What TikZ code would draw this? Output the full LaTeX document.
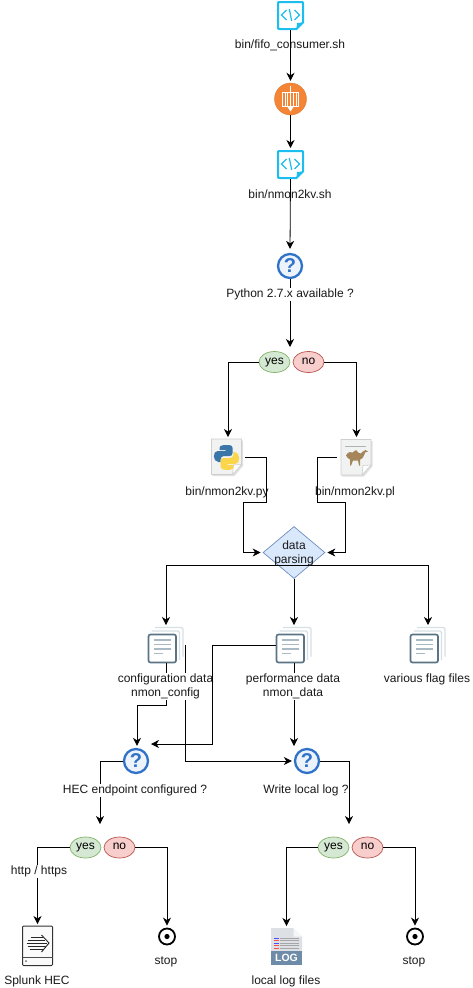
\documentclass[tikz,border=0pt]{standalone}
\usepackage{fontspec}
\setmainfont{Liberation Sans}
\usetikzlibrary{arrows.meta,shapes.geometric,calc}
\definecolor{scriptc}{HTML}{1CBEF0}
\definecolor{queuec}{HTML}{F58536}
\definecolor{qring}{HTML}{2F72C8}
\definecolor{qfill}{HTML}{EDF3FB}
\definecolor{docd}{HTML}{5A7484}
\definecolor{docl}{HTML}{D6DFE4}
\definecolor{docm}{HTML}{A9BAC4}
\definecolor{pagec}{HTML}{F1F2F2}
\definecolor{pageb}{HTML}{CFCFCF}
\definecolor{pyblue}{HTML}{3A76A8}
\definecolor{pyyellow}{HTML}{FBD64B}
\definecolor{camel}{HTML}{A5865A}
\definecolor{logband}{HTML}{6E8CA8}
\definecolor{logpage}{HTML}{DDE1E5}
\definecolor{yesf}{HTML}{D5E8D4}\definecolor{yesb}{HTML}{82B366}
\definecolor{nof}{HTML}{F8CECC}\definecolor{nob}{HTML}{B85450}
\definecolor{dpf}{HTML}{DAE8FC}\definecolor{dpb}{HTML}{6C8EBF}
\tikzset{
  x=1pt,y=-1pt,
  flow/.style={draw=black,line width=0.8pt,-{Stealth[length=8pt,width=8pt,inset=2.5pt]},shorten >=2pt},
  plain/.style={draw=black,line width=0.8pt},
  lbl/.style={font=\fontsize{12}{14}\selectfont,align=center,inner sep=0.5pt,text=black!90,yshift=-1.5pt},
  lblw/.style={lbl,fill=white},
  iconbox/.style={inner sep=0,outer sep=0,rectangle},
  yesnode/.style={ellipse,draw=yesb,fill=yesf,line width=0.7pt,minimum width=31,minimum height=21,inner sep=0,font=\fontsize{12}{13}\selectfont,text height=6pt,text depth=2pt},
  nonode/.style={ellipse,draw=nob,fill=nof,line width=0.7pt,minimum width=31,minimum height=21,inner sep=0,font=\fontsize{12}{13}\selectfont,text height=6pt,text depth=2pt},
}
\newcommand{\scripticon}[3]{%
  \node[iconbox,minimum width=27,minimum height=29] (#1) at (#2,#3) {};
  \begin{scope}[shift={(#2,#3)}]
    \draw[scriptc,line width=2pt,fill=white,line join=round]
      (-10.5,-13.5) -- (10.5,-13.5) .. controls (12.5,-13.5) and (12.5,-13.5) .. (12.5,-11.5)
      -- (12.5,7) -- (6,13.5) -- (-10.5,13.5) .. controls (-12.5,13.5) and (-12.5,13.5) .. (-12.5,11.5)
      -- (-12.5,-11.5) .. controls (-12.5,-13.5) and (-12.5,-13.5) .. (-10.5,-13.5) -- cycle;
    \fill[scriptc] (12.5,7) -- (6.5,7.5) -- (6,13.5) -- cycle;
    \draw[scriptc,line width=1.2pt] (-4,-5.5) -- (-9,-0.5) -- (-4,4.5);
    \draw[scriptc,line width=1.2pt] (4,-5.5) -- (9,-0.5) -- (4,4.5);
    \draw[scriptc,line width=1.2pt] (-1.2,-6.5) -- (1.2,5.5);
  \end{scope}}
\newcommand{\qicon}[3]{%
  \node[circle,draw=qring,line width=2.3pt,fill=qfill,minimum size=24,inner sep=0,
        font=\fontsize{20}{20}\bfseries\selectfont,text=qring] (#1) at (#2,#3) {?};}
\newcommand{\docicon}[3]{%
  \node[iconbox,minimum width=36,minimum height=36] (#1) at (#2,#3) {};
  \begin{scope}[shift={(#2,#3)}]
    \draw[docl,line width=1.3pt,rounded corners=1.5pt] (-11,-17.5) -- (17,-17.5) -- (17,11.5);
    \draw[docl,line width=1.3pt,rounded corners=1.5pt] (-14.5,-14) -- (13.5,-14) -- (13.5,15);
    \draw[docd,line width=1.7pt,fill=white,rounded corners=2pt] (-17.5,-10.5) rectangle (10,17.5);
    \draw[docm,line width=1.6pt] (-12,-5) -- (5,-5) (-12,-0.5) -- (5,-0.5) (-12,4) -- (5,4) (-12,8.5) -- (-3,8.5);
  \end{scope}}
\newcommand{\stopicon}[3]{%
  \node[circle,draw=black,line width=1.8pt,minimum size=16,inner sep=0,fill=white] (#1) at (#2,#3) {};
  \fill[black] (#1.center) circle (2.6);}
\newcommand{\pageicon}[2]{%
  \begin{scope}[shift={(#1,#2)}]
    \fill[black!12] (-14,-16.5) -- (16.5,-16.5) -- (16.5,9) -- (8,19) -- (-14,19) -- cycle;
    \draw[pageb,line width=0.6pt,fill=pagec] (-15,-18) -- (15,-18) -- (15,7.5) -- (6,17.5) -- (-15,17.5) -- cycle;
    \draw[pageb,line width=0.6pt,fill=white] (15,7.5) -- (7,8) -- (6,17.5) -- cycle;
  \end{scope}}
\begin{document}
\begin{tikzpicture}
\useasboundingbox (0,0) rectangle (472,988);
% --- icons
\scripticon{sa}{290.5}{15.5}
\node[lbl] (sal) at (290,44) {bin/fifo\_consumer.sh};
\node[circle,fill=queuec,draw=queuec!90!black,line width=0.4pt,minimum size=32,inner sep=0] (qu) at (290.5,99) {};
\begin{scope}[shift={(290.5,99)}]
  \draw[white,line width=0.9pt] (-8,-7) rectangle (8,7);
  \draw[white,line width=0.9pt] (-5.5,-7) -- (-5.5,7) (-3,-7) -- (-3,7) (3,-7) -- (3,7) (5.5,-7) -- (5.5,7);
  \draw[white,line width=1.2pt] (0,-13) -- (0,9);
  \fill[white] (-3,8) -- (3,8) -- (0,12.5) -- cycle;
\end{scope}
\scripticon{sb}{290.5}{164.5}
\node[lbl] (sbl) at (290,193) {bin/nmon2kv.sh};
\qicon{qa}{290}{266}
\node[yesnode] (ya) at (274.5,362) {yes};
\node[nonode] (na) at (308.5,362) {no};
% python file
\node[iconbox,minimum width=34,minimum height=36] (py) at (228,457) {};
\pageicon{226.5}{457}
\begin{scope}[shift={(226.5,457)}]
  \fill[pyblue] (-1,-12) .. controls (-7,-12) and (-7,-10) .. (-7,-7) -- (-1,-7) -- (-1,-6) -- (-9,-6)
     .. controls (-14,-6) and (-14,5) .. (-8,5) -- (-6,5) .. controls (-6,0) and (-5,-1) .. (-1,-1)
     -- (3,-1) .. controls (5,-1) and (6,-2) .. (6,-4) -- (6,-9) .. controls (6,-12) and (3,-12) .. (-1,-12) -- cycle;
  \fill[pyyellow] (1,13) .. controls (7,13) and (7,11) .. (7,8) -- (1,8) -- (1,7) -- (9,7)
     .. controls (14,7) and (14,-5) .. (8,-5) -- (7,-5) .. controls (7,0) and (6,1) .. (2,1)
     -- (-3,1) .. controls (-5,1) and (-6,2) .. (-6,4) -- (-6,9) .. controls (-6,12) and (-3,13) .. (1,13) -- cycle;
\end{scope}
\node[lblw] (pyl) at (227,491) {bin/nmon2kv.py};
% perl file
\node[iconbox,minimum width=39,minimum height=36] (pl) at (356.5,457) {};
\pageicon{356}{457.5}
\begin{scope}[shift={(356,457.5)}]
  \fill[black!30] (-11,-12) rectangle (10,-10.5);
  \fill[camel] (-10,-2) .. controls (-8,-6) and (-5,-6) .. (-3,-5) .. controls (-1,-8) and (1,-8) .. (2,-5)
     .. controls (4,-3) and (6,-4) .. (7,-6) .. controls (8,-8) and (11,-8) .. (12,-6) -- (9,-5)
     .. controls (8,-1) and (6,2) .. (4,2) -- (4,8) -- (3,8) -- (2,3) -- (-3,3) -- (-5,8) -- (-6,8) -- (-6,2)
     .. controls (-8,1) and (-9,0) .. (-10,-2) -- cycle;
\end{scope}
\node[lblw] (pll) at (355,491) {bin/nmon2kv.pl};
% decision
\node[diamond,draw=dpb,fill=dpf,line width=0.7pt,minimum width=62,minimum height=52,aspect=1.19,inner sep=0] (dp) at (294,552.5) {};
\docicon{cfg}{166}{645}
\docicon{prf}{294}{645}
\docicon{flg}{428}{645}
\qicon{qb}{136}{761}
\qicon{qc}{307}{761}
\coordinate (prfin) at (294,748);
\coordinate (qbin) at (149,744);
\coordinate (yain) at (290,349);
\coordinate (ybin) at (100,826);
\coordinate (ycin) at (349,826);
\node[yesnode] (yb) at (85.5,847.5) {yes};
\node[nonode] (nb) at (119.5,847.5) {no};
\node[yesnode] (yc) at (333.5,847.5) {yes};
\node[nonode] (nc) at (367.5,847.5) {no};
% splunk
\node[iconbox,minimum width=30,minimum height=40] (hec) at (37.5,946) {};
\begin{scope}[shift={(37.5,946)}]
  \draw[black!80,line width=1pt,fill=black!2,rounded corners=1pt] (-15,-20) rectangle (15,19.5);
  \draw[black!70,line width=0.8pt] (-15,11) -- (15,11);
  \fill[black!60] (-11.5,15) circle (1);
  \draw[black!85,line width=0.9pt] (4,-11) -- (11.5,-3) -- (4,6);
  \draw[black!85,line width=0.9pt] (-7,-8.5) -- (5,-8.5) (-10,-5.5) -- (7,-5.5) (-11,-2.5) -- (9,-2.5) (-10,0.5) -- (8,0.5) (-8,3.5) -- (6,3.5);
\end{scope}
% log
\node[iconbox,minimum width=31,minimum height=37] (log) at (286.5,946.5) {};
\begin{scope}[shift={(286.5,946.5)}]
  \fill[logpage] (-15.5,-18.5) -- (7,-18.5) -- (15.5,-10) -- (15.5,5) -- (-15.5,5) -- cycle;
  \fill[white!70!logpage] (7,-18.5) -- (7,-10) -- (15.5,-10) -- cycle;
  \fill[logband] (-15.5,4.5) rectangle (15.5,18);
  \foreach \yy/\cc in {-9/blue!70,-6.5/red!70,-4/blue!70,-1.5/red!70,1/red!70}{
    \fill[\cc] (-13,\yy) rectangle (-8,\yy+1.3);
    \fill[black!35] (-6.5,\yy) rectangle (12,\yy+1.3);
  }
  \node[text=white,font=\fontsize{10.5}{11}\bfseries\selectfont,inner sep=0] (logtxt) at (0,11.5) {LOG};
\end{scope}
\stopicon{sta}{167}{936.5}
\stopicon{stb}{415}{936.5}
% --- connectors that labels mask
\draw[flow] (qa.south) -- (yain);
\draw[flow] (ya.west) -| (py.north);
\draw[flow] (na.east) -| (pl.north);
\draw[plain] (py.east) -- ++(21,0) -- ++(0,45) -- ++(-23,0) coordinate (pyb);
\draw[flow] (pyb) |- (dp.west);
\draw[plain] (pl.west) -- ++(-20,0) -- ++(0,45) -- ++(28,0) coordinate (plb);
\draw[flow] (plb) |- (dp.east);
\draw[flow] (dp.south) -- (prf.north);
\draw[flow] ([yshift=-12.5pt]dp.center) -| (cfg.north);
\draw[flow] ([yshift=-12.5pt]dp.center) -| (flg.north);
\draw[plain] (cfg.south) -- ++(0,42) -- ++(-29,0) coordinate (cfb);
\draw[flow] (cfb) -- ([xshift=1pt]qb.north);
\draw[flow] ([xshift=1pt]cfg.east) |- (qc.west);
\draw[flow] (prf.south) -- (prfin);
\draw[flow] (qb.west) -| (ybin);
\draw[flow] (qc.east) -| (ycin);
\draw[flow] (yb.west) -| (hec.north);
\draw[flow] (nb.east) -| (sta.north);
\draw[flow] (yc.west) -| (log.north);
\draw[flow] (nc.east) -| (stb.north);
% --- labels
\node[lblw] (qal) at (290,293) {Python 2.7.x available ?};
\node[lblw] (cfl) at (165.5,685) {configuration data\\nmon\_config};
\node[lblw] (prl) at (293,685) {performance data\\nmon\_data};
\node[lblw] (fll) at (427,678) {various flag files};
\node[lblw] (qbl) at (135,789) {HEC endpoint configured ?};
\node[lblw] (qcl) at (306,789) {Write local log ?};
\node[lblw] (http) at (39,870) {http / https};
\node[lbl] (hecl) at (37,980) {Splunk HEC};
\node[lbl] (stal) at (166,960) {stop};
\node[lbl] (logl) at (286,980) {local log files};
\node[lbl] (stbl) at (414,960) {stop};
\node[lbl] (dpl) at (294,552) {data\\parsing};
% --- connectors drawn over labels
\draw[flow] (sa.south) -- (qu.north);
\draw[flow] (qu.south) -- (sb.north);
\draw[flow] (sb.south) -- ([yshift=2pt]qa.north);
\draw[flow] (prf.west) -- ++(-64,0) -- ++(0,99) -- (qbin);
\end{tikzpicture}
\end{document}
